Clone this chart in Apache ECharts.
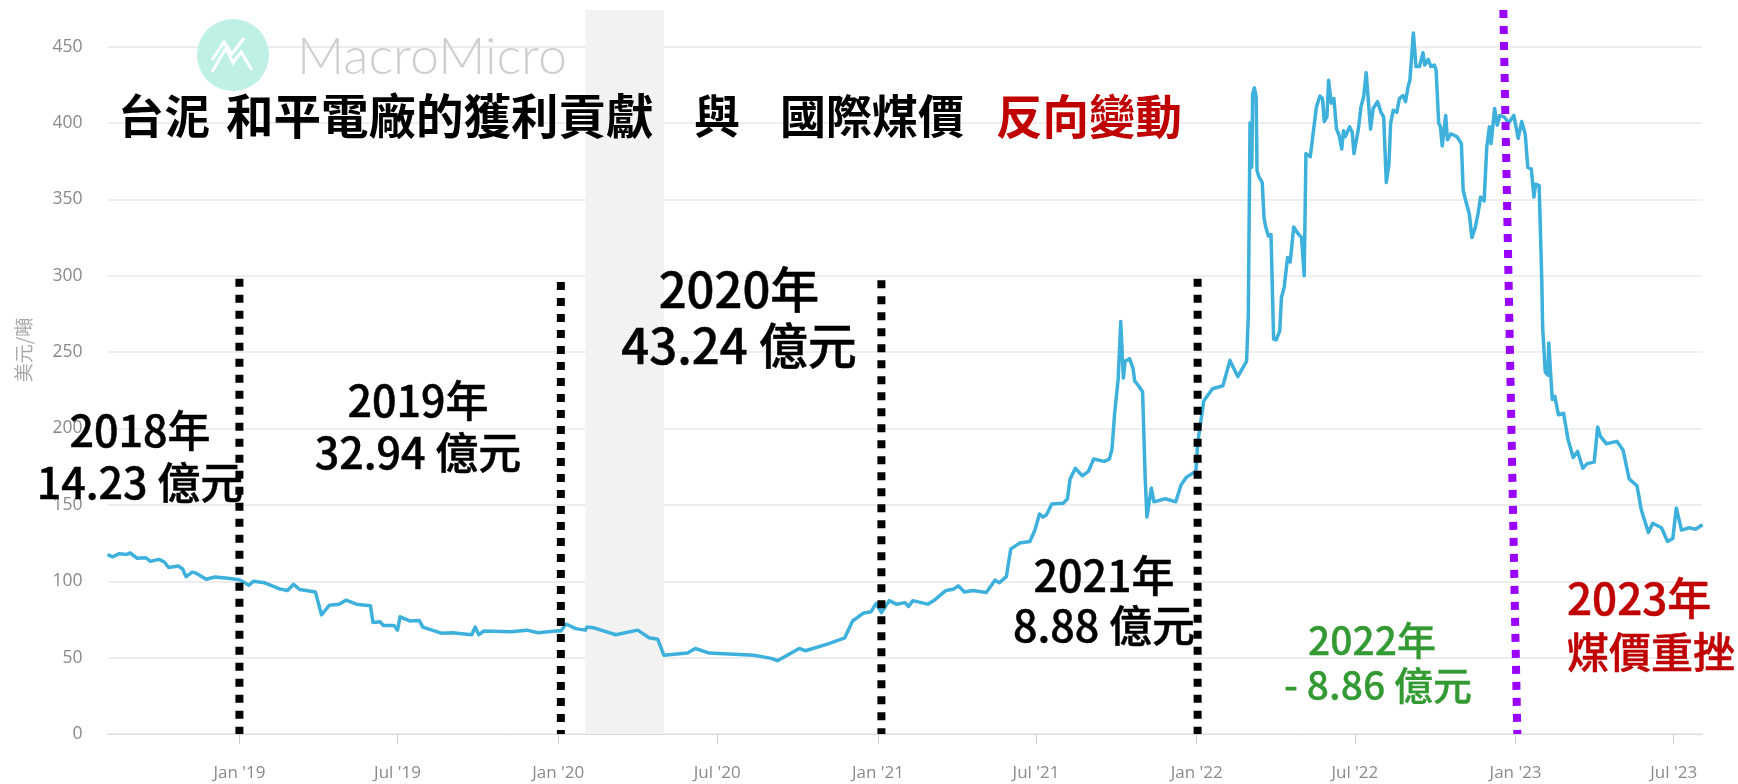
<!DOCTYPE html>
<html>
<head>
<meta charset="utf-8">
<style>html,body{margin:0;padding:0;background:#fff}#c{width:1738px;height:784px}</style>
<script src="https://cdn.jsdelivr.net/npm/echarts@6/dist/echarts.min.js"></script>
</head>
<body>
<div id="c"></div>
<script>
const priceDates = ['2018-08-03','2018-08-09','2018-08-16','2018-08-25','2018-08-29','2018-09-06','2018-09-16','2018-09-21','2018-10-01','2018-10-07','2018-10-12','2018-10-23','2018-10-28','2018-11-01','2018-11-08','2018-11-12','2018-11-24','2018-12-04','2018-12-19',
'2019-01-01','2019-01-12','2019-01-17','2019-01-30','2019-02-16','2019-02-25','2019-03-04','2019-03-11','2019-03-29','2019-04-05','2019-04-14','2019-04-25','2019-05-03','2019-05-15','2019-05-31','2019-06-03','2019-06-11','2019-06-15','2019-06-27','2019-07-01','2019-07-04','2019-07-15','2019-07-26','2019-07-30','2019-08-20','2019-09-02','2019-09-24','2019-09-28','2019-10-02','2019-10-08','2019-11-08','2019-11-26','2019-12-09',
'2020-01-01','2020-01-04','2020-01-10','2020-01-21','2020-02-01','2020-02-03','2020-02-10','2020-03-07','2020-04-01','2020-04-14','2020-04-24','2020-05-01','2020-05-28','2020-06-06','2020-06-22','2020-08-12','2020-09-01','2020-09-08','2020-10-03','2020-10-10','2020-11-05','2020-11-24','2020-12-03','2020-12-15','2020-12-24','2020-12-30',
'2021-01-05','2021-01-14','2021-01-22','2021-02-01','2021-02-05','2021-02-10','2021-02-27','2021-03-07','2021-03-20','2021-03-28','2021-04-03','2021-04-10','2021-04-20','2021-05-05','2021-05-15','2021-05-20','2021-05-28','2021-06-02','2021-06-12','2021-06-24','2021-06-30','2021-07-05','2021-07-09','2021-07-13','2021-07-19','2021-08-01','2021-08-06','2021-08-09','2021-08-15','2021-08-23','2021-08-30','2021-09-05','2021-09-17','2021-09-23','2021-09-26','2021-09-29','2021-10-03','2021-10-06','2021-10-09','2021-10-11','2021-10-16','2021-10-20','2021-10-22','2021-10-25','2021-10-31','2021-11-03','2021-11-05','2021-11-10','2021-11-13','2021-11-26','2021-12-08','2021-12-14','2021-12-20','2021-12-31',
'2022-01-02','2022-01-09','2022-01-19','2022-01-31','2022-02-08','2022-02-17','2022-02-25','2022-02-27','2022-03-01','2022-03-03','2022-03-05','2022-03-06','2022-03-08','2022-03-10','2022-03-11','2022-03-13','2022-03-17','2022-03-19','2022-03-21','2022-03-24','2022-03-27','2022-03-30','2022-04-02','2022-04-06','2022-04-08','2022-04-11','2022-04-13','2022-04-15','2022-04-18','2022-04-22','2022-04-27','2022-05-01','2022-05-04','2022-05-06','2022-05-11','2022-05-14','2022-05-18','2022-05-22','2022-05-25','2022-05-27','2022-05-30','2022-06-01','2022-06-04','2022-06-07','2022-06-10','2022-06-13','2022-06-16','2022-06-18','2022-06-20','2022-06-25','2022-06-28','2022-06-30','2022-07-05','2022-07-08','2022-07-11','2022-07-14','2022-07-17','2022-07-19','2022-07-22','2022-07-27','2022-07-31','2022-08-03','2022-08-06','2022-08-09','2022-08-11','2022-08-14','2022-08-18','2022-08-21','2022-08-25','2022-08-28','2022-08-31','2022-09-02','2022-09-06','2022-09-09','2022-09-13','2022-09-17','2022-09-19','2022-09-23','2022-09-26','2022-09-30','2022-10-02','2022-10-05','2022-10-07','2022-10-09','2022-10-13','2022-10-15','2022-10-19','2022-10-26','2022-10-31','2022-11-02','2022-11-05','2022-11-09','2022-11-12','2022-11-16','2022-11-19','2022-11-22','2022-11-26','2022-11-29','2022-12-02','2022-12-04','2022-12-08','2022-12-11','2022-12-14','2022-12-19','2022-12-24','2022-12-30',
'2023-01-04','2023-01-08','2023-01-12','2023-01-15','2023-01-19','2023-01-22','2023-01-24','2023-01-28','2023-01-31','2023-02-01','2023-02-04','2023-02-07','2023-02-08','2023-02-12','2023-02-15','2023-02-19','2023-02-25','2023-03-02','2023-03-08','2023-03-13','2023-03-19','2023-03-24','2023-04-01','2023-04-05','2023-04-08','2023-04-15','2023-04-27','2023-05-04','2023-05-11','2023-05-20','2023-05-25','2023-06-02','2023-06-07','2023-06-17','2023-06-24','2023-06-30','2023-07-04','2023-07-10','2023-07-19','2023-07-26','2023-08-03'];
const priceValues = [117.4,116,118,117.6,118.5,115,115.4,113,114.3,112.6,109,110,108,103,106,105.4,101.3,102.8,102,
101,97.4,100,99,95,94,98,94.6,93,78,84.3,85,87.6,85,84,73,73.5,71,71,68,76.7,74,74.3,70,66,66.3,65,70,65,67.4,67,68,66.3,
67.6,67.4,72,69,68,70,69.6,65,68,63,62,51.5,53,56,53,51.5,49.5,48,56,54.5,59,63,74,79,80,85.5,
79.5,87.3,85,86,83.5,87.3,85,87.8,94,94.7,97,93,94,92.7,100.7,99,103,121,125,126,134,144,142,143.5,150.6,151,154,167,174,169,172,180,178.5,180,186.6,210,232,270,233,244,245.7,239.6,231,229,224,167,142,161,152,154,152,163,168,172,
190,218,226,228,244.6,234,242,244,273,400,371,419,423,417,369,365,361,338,332,326,327,258.5,258,264,286,292,292.5,312,309,332,327.5,325,300,380,378,392,410.6,417.6,416,401,404,428,413,416,396,392,383,395,391,397.5,394,380,396,410.6,417,433,410.6,396,409.5,414,407,404,361,373,400,408.4,407,416,418,414,424,428,459,437,437,446,438,441.7,437,438,434.7,400,397.5,385,405,389,393,391,386.5,356,349,340.6,325,332,340.6,351.5,349,384,397.5,386.5,409.5,398.6,405,404,400,405,
390,401,393,371,370,351.5,360,359,297,266,237,235,256,219,221,209,210,193,181,185,174,177,178,201,195,190,191.6,186,167,162.5,146.6,132,138,135,126,128,148,133.5,135,134,137];

const tickDates = ['2019-01-01','2019-07-01','2020-01-01','2020-07-01','2021-01-01','2021-07-01','2022-01-01','2022-07-01','2023-01-01','2023-07-01'];
const tickLabels = ["Jan '19","Jul '19","Jan '20","Jul '20","Jan '21","Jul '21","Jan '22","Jul '22","Jan '23","Jul '23"];
const dividerDates = ['2019-01-01','2020-01-04','2021-01-05','2022-01-02'];
const dividerTops = [298,296,297,298];
const purpleDates = ['2022-12-18','2023-01-03'];
const purpleValues = [474,0];
const bandDates = ['2020-02-01','2020-05-01'];

const ts = s => +new Date(s + 'T00:00:00');
const tickTs = tickDates.map(ts);
const FONT = '"Noto Sans CJK TC","Noto Sans",sans-serif';
const label = (text, x, y, size, color, weight, align, fat) => ({
  type:'text', x, y, z:50,
  style:{text, fill:color, font:`${weight} ${size}px ${FONT}`, textAlign:align||'center', textVerticalAlign:'middle',
         stroke:fat?color:null, lineWidth:fat||0}
});

const dividers = dividerDates.map((d,i)=>({
  type:'line', data:[[ts(d),dividerTops[i]],[ts(d),0]], symbol:'none', z:20, silent:true,
  lineStyle:{color:'#000',width:8,type:[8,8],cap:'butt'}
}));

const chart = echarts.init(document.getElementById('c'));
chart.setOption({
  animation:false,
  backgroundColor:'#fff',
  grid:{left:107.5,right:35.5,top:10,bottom:50,containLabel:false},
  tooltip:{show:false},
  xAxis:{
    type:'value', min:ts('2018-08-03'), max:ts('2023-08-03'), scale:true,
    axisLine:{show:true,onZero:false,lineStyle:{color:'#ddd',width:1}},
    axisTick:{show:true,length:10,lineStyle:{color:'#ccc'},customValues:tickTs},
    axisLabel:{color:'#8a8a8a',fontSize:17,fontFamily:'"Open Sans",sans-serif',margin:31,customValues:tickTs,hideOverlap:false,
      formatter:v=>tickLabels[tickTs.indexOf(+v)]||''},
    splitLine:{show:false}
  },
  yAxis:{
    type:'value', min:0, max:474, interval:50,
    axisLine:{show:false}, axisTick:{show:false},
    axisLabel:{color:'#8a8a8a',fontSize:17.5,fontFamily:'"Open Sans",sans-serif',margin:25,showMaxLabel:false},
    splitLine:{show:true,showMaxLine:false,lineStyle:{color:'#eeeeee',width:2}}
  },
  series:[
    {type:'line', name:'煤價', data:priceDates.map((d,i)=>[ts(d),priceValues[i]]), symbol:'none', z:10,
     lineStyle:{color:'#3eb0dc',width:3.5,join:'round'},
     markArea:{silent:true,itemStyle:{color:'#f2f2f2'},data:[[{xAxis:ts(bandDates[0])},{xAxis:ts(bandDates[1])}]]}},
    ...dividers,
    {type:'line', data:purpleDates.map((d,i)=>[ts(d),purpleValues[i]]), symbol:'none', z:21, silent:true,
     lineStyle:{color:'#9900ff',width:8,type:[8,8],cap:'butt'}}
  ],
  graphic:[
    {type:'circle',shape:{cx:233,cy:55,r:36},style:{fill:'#bff0e6'},z:1},
    {type:'polyline',shape:{points:[[212,72],[226,48],[233,63],[241,52],[252,70]]},style:{stroke:'#fff',lineWidth:3,fill:null},z:2},
    {type:'polyline',shape:{points:[[212,60],[224,42],[232,54],[244,38]]},style:{stroke:'#fff',lineWidth:3,fill:null},z:2},
    {type:'text',x:297,y:57,z:2,style:{text:'MacroMicro',fill:'#cfcfcf',font:'300 52px Lato,"Open Sans",sans-serif',textVerticalAlign:'middle'}},
    {type:'text',x:24,y:350,rotation:Math.PI/2,z:3,style:{text:'美元/噸',fill:'#aaa',font:`19px ${FONT}`,textAlign:'center',textVerticalAlign:'middle'}},
    label('台泥',118,116,46,'#000','bold','left'),
    label('和平電廠的獲利貢獻',226,116,47.5,'#000','bold','left'),
    label('與',694,116,46,'#000','bold','left'),
    label('國際煤價',780,116,46,'#000','bold','left'),
    label('反向變動',996,116,46.5,'#c00000','bold','left'),
    label('2018年',140,431,43,'#000','500','center',0.5),
    label('14.23 億元',140,483,43,'#000','500','center',0.5),
    label('2019年',418,401,43,'#000','500','center',0.5),
    label('32.94 億元',418,453,43,'#000','500','center',0.5),
    label('2020年',739,289,49,'#000','500','center',0.5),
    label('43.24 億元',739,345,49,'#000','500','center',0.5),
    label('2021年',1104,576,43,'#000','500','center',0.5),
    label('8.88 億元',1104,626,43,'#000','500','center',0.5),
    label('2022年',1372,640,39,'#339933','500','center',0.3),
    label('- 8.86 億元',1378,685,39,'#339933','500','center',0.3),
    label('2023年',1567,598,44,'#c00000','500','left',0.5),
    label('煤價重挫',1567,652,42,'#c00000','500','left',0.5)
  ]
});
</script>
</body>
</html>
